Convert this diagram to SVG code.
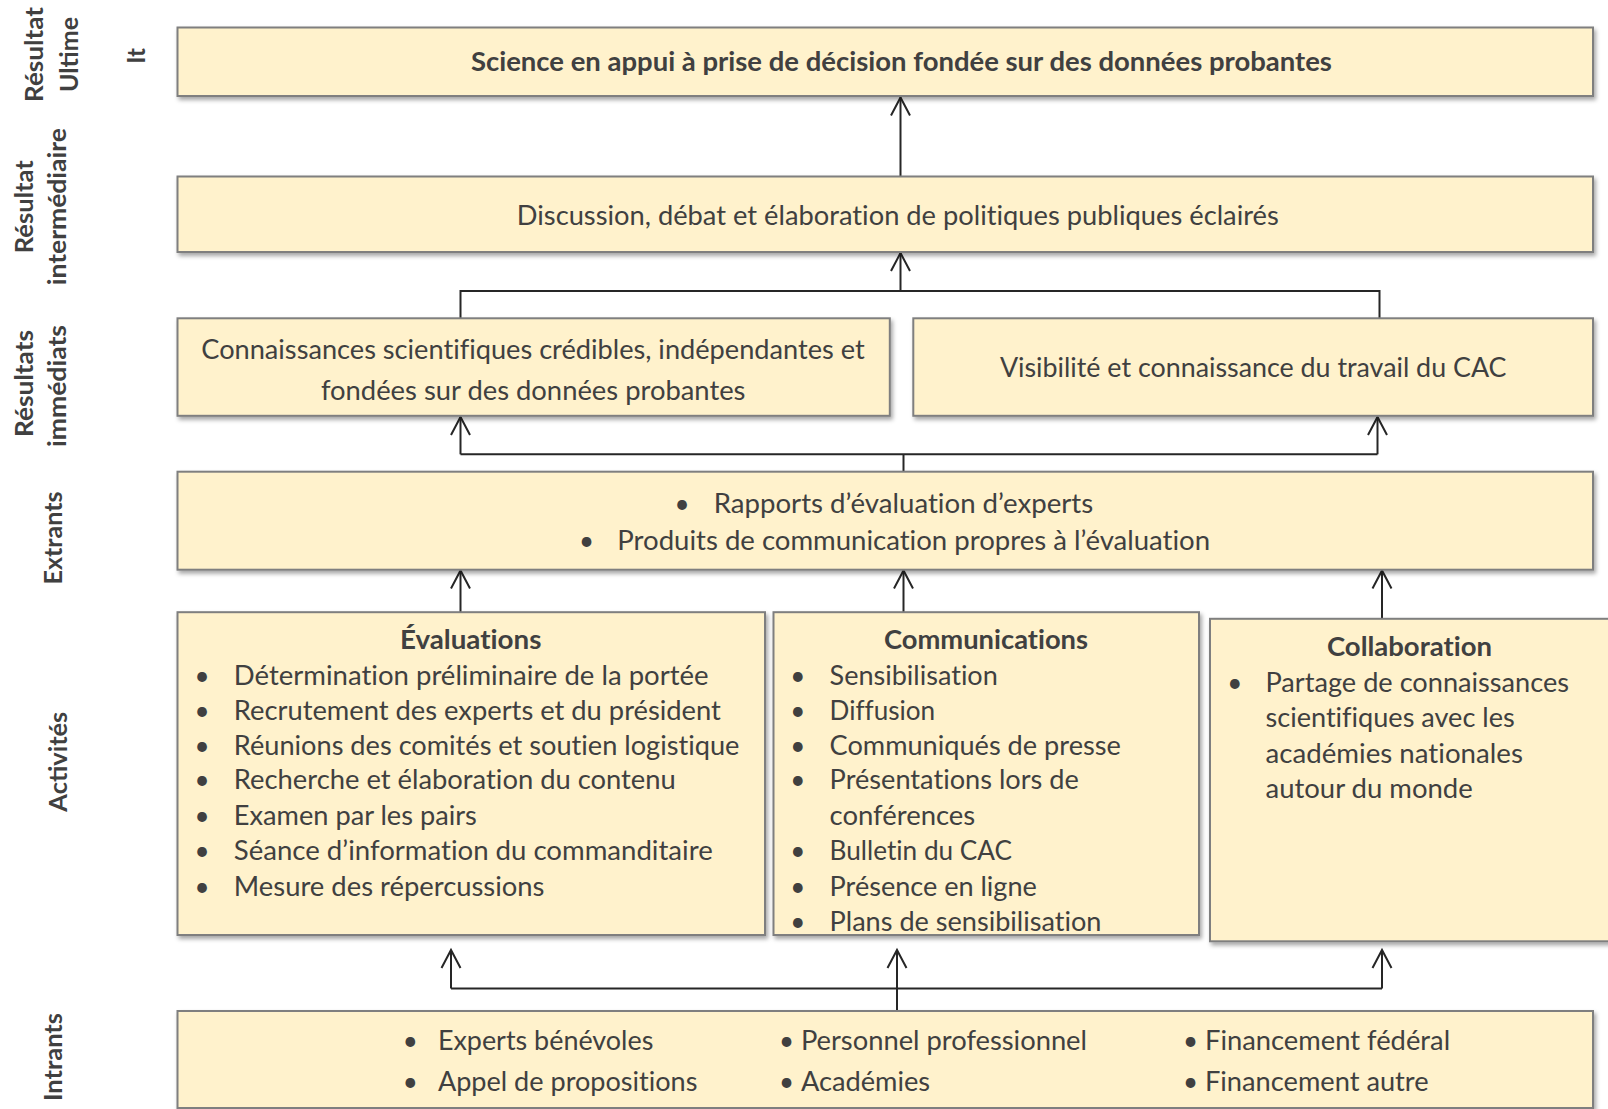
<svg xmlns="http://www.w3.org/2000/svg" width="1608" height="1109" viewBox="0 0 1608 1109">
<style>
  .box { fill: #FFF2CC; stroke: #7F7F7F; stroke-width: 2; filter: url(#sh); }
  .t { font-family: Lato, "Liberation Sans", sans-serif; font-size: 26px; fill: #404040; font-variant-ligatures: none; }
  .b { font-weight: bold; }
  .m { text-anchor: middle; }
  .side { font-family: Lato, "Liberation Sans", sans-serif; font-size: 24px; font-weight: bold; fill: #404040; text-anchor: middle; }
  .c { fill: none; stroke: #262626; stroke-width: 2; }
  .a { marker-end: url(#arr); }
</style>
<defs>
  <filter id="sh" x="-5%" y="-10%" width="110%" height="130%">
    <feDropShadow dx="2" dy="3" stdDeviation="2" flood-color="#000" flood-opacity="0.35"/>
  </filter>
  <marker id="arr" markerUnits="userSpaceOnUse" markerWidth="24" markerHeight="26" viewBox="-21 -13 24 26" refX="0" refY="0" orient="auto" overflow="visible">
    <path d="M-18,-9.5 L0,0 L-18,9.5" fill="none" stroke="#262626" stroke-width="2"/>
  </marker>
</defs>
<rect width="1608" height="1109" fill="#FFFFFF"/>

<g id="labels">
  <text class="side" transform="translate(43,54.5) rotate(-90)" textLength="95" lengthAdjust="spacingAndGlyphs">Résultat</text>
  <text class="side" transform="translate(78,54.5) rotate(-90)" textLength="75" lengthAdjust="spacingAndGlyphs">Ultime</text>
  <text class="side" transform="translate(145,55.8) rotate(-90)">It</text>
  <text class="side" transform="translate(33,206.7) rotate(-90)" textLength="93" lengthAdjust="spacingAndGlyphs">Résultat</text>
  <text class="side" transform="translate(65.5,206.7) rotate(-90)" textLength="157" lengthAdjust="spacingAndGlyphs">intermédiaire</text>
  <text class="side" transform="translate(33,383.5) rotate(-90)" textLength="107" lengthAdjust="spacingAndGlyphs">Résultats</text>
  <text class="side" transform="translate(65.5,386) rotate(-90)" textLength="122" lengthAdjust="spacingAndGlyphs">immédiats</text>
  <text class="side" transform="translate(62,538) rotate(-90)" textLength="93" lengthAdjust="spacingAndGlyphs">Extrants</text>
  <text class="side" transform="translate(67,761.7) rotate(-90)" textLength="100" lengthAdjust="spacingAndGlyphs">Activités</text>
  <text class="side" transform="translate(62,1057) rotate(-90)" textLength="88" lengthAdjust="spacingAndGlyphs">Intrants</text>
</g>

<g id="connectors">
  <path class="c a" d="M900.5,176.5 V97.5"/>
  <path class="c" d="M460.5,318 V291 H1379.5 V318"/>
  <path class="c a" d="M900.5,291 V253"/>
  <path class="c" d="M903.5,471.5 V454.3"/>
  <path class="c" d="M460.5,454.3 H1377.5"/>
  <path class="c a" d="M460.5,454.3 V417"/>
  <path class="c a" d="M1377.5,454.3 V417"/>
  <path class="c a" d="M460.5,612 V570.5"/>
  <path class="c a" d="M903.5,612.5 V570.5"/>
  <path class="c a" d="M1382,619 V570.5"/>
  <path class="c" d="M451,988.5 H1382"/>
  <path class="c a" d="M897,1011 V950"/>
  <path class="c a" d="M451,988.5 V950"/>
  <path class="c a" d="M1382,988.5 V950"/>
</g>

<g id="impact">
  <rect class="box" x="177.5" y="27.5" width="1415.5" height="68.5"/>
  <text class="t b m" x="901.4" y="71.3" textLength="861" lengthAdjust="spacingAndGlyphs">Science en appui à prise de décision fondée sur des données probantes</text>
</g>

<g id="intermediaire">
  <rect class="box" x="177.5" y="176.5" width="1415.5" height="75.5"/>
  <text class="t m" x="897.8" y="225" textLength="762" lengthAdjust="spacingAndGlyphs">Discussion, débat et élaboration de politiques publiques éclairés</text>
</g>

<g id="immediat-connaissances">
  <rect class="box" x="177.5" y="318.3" width="712.3" height="97.5"/>
  <text class="t m" x="533" y="358.5" textLength="663.5" lengthAdjust="spacingAndGlyphs">Connaissances scientifiques crédibles, indépendantes et</text>
  <text class="t m" x="533.2" y="399.5" textLength="424.5" lengthAdjust="spacingAndGlyphs">fondées sur des données probantes</text>
</g>

<g id="immediat-visibilite">
  <rect class="box" x="913.3" y="318.3" width="679.7" height="97.5"/>
  <text class="t m" x="1253.2" y="377" textLength="506.6" lengthAdjust="spacingAndGlyphs">Visibilité et connaissance du travail du CAC</text>
</g>

<g id="extrants">
  <rect class="box" x="177.5" y="471.7" width="1415.5" height="98"/>
  <text class="t m" x="682" y="512.5">•</text>
  <text class="t" x="713.7" y="512.5" textLength="379.5" lengthAdjust="spacingAndGlyphs">Rapports d’évaluation d’experts</text>
  <text class="t m" x="586.6" y="549.5">•</text>
  <text class="t" x="617.3" y="549.5" textLength="592.8" lengthAdjust="spacingAndGlyphs">Produits de communication propres à l’évaluation</text>
</g>

<g id="evaluations">
  <rect class="box" x="177.5" y="612.2" width="587.5" height="322.8"/>
  <text class="t b m" x="470.7" y="649" textLength="141.5" lengthAdjust="spacingAndGlyphs">Évaluations</text>
  <g class="t m">
    <text x="202" y="685">•</text><text x="202" y="719.8">•</text><text x="202" y="754.6">•</text><text x="202" y="789.4">•</text><text x="202" y="824.8">•</text><text x="202" y="860.1">•</text><text x="202" y="895.5">•</text>
  </g>
  <text class="t" x="233.8" y="685" textLength="474.8" lengthAdjust="spacingAndGlyphs">Détermination préliminaire de la portée</text>
  <text class="t" x="233.8" y="719.8" textLength="487.1" lengthAdjust="spacingAndGlyphs">Recrutement des experts et du président</text>
  <text class="t" x="233.8" y="754.6" textLength="505.6" lengthAdjust="spacingAndGlyphs">Réunions des comités et soutien logistique</text>
  <text class="t" x="233.8" y="789.4" textLength="442" lengthAdjust="spacingAndGlyphs">Recherche et élaboration du contenu</text>
  <text class="t" x="233.8" y="824.8" textLength="243" lengthAdjust="spacingAndGlyphs">Examen par les pairs</text>
  <text class="t" x="233.8" y="860.1" textLength="478.9" lengthAdjust="spacingAndGlyphs">Séance d’information du commanditaire</text>
  <text class="t" x="233.8" y="895.5" textLength="310.7" lengthAdjust="spacingAndGlyphs">Mesure des répercussions</text>
</g>

<g id="communications">
  <rect class="box" x="773.5" y="612.2" width="425.5" height="322.8"/>
  <text class="t b m" x="986" y="649" textLength="204.1" lengthAdjust="spacingAndGlyphs">Communications</text>
  <g class="t m">
    <text x="797.8" y="685">•</text><text x="797.8" y="719.8">•</text><text x="797.8" y="754.6">•</text><text x="797.8" y="789.4">•</text><text x="797.8" y="860.1">•</text><text x="797.8" y="895.5">•</text><text x="797.8" y="930.5">•</text>
  </g>
  <text class="t" x="829.6" y="685" textLength="168.2" lengthAdjust="spacingAndGlyphs">Sensibilisation</text>
  <text class="t" x="829.6" y="719.8" textLength="105.6" lengthAdjust="spacingAndGlyphs">Diffusion</text>
  <text class="t" x="829.6" y="754.6" textLength="291.2" lengthAdjust="spacingAndGlyphs">Communiqués de presse</text>
  <text class="t" x="829.6" y="789.4" textLength="249.2" lengthAdjust="spacingAndGlyphs">Présentations lors de</text>
  <text class="t" x="829.6" y="824.8" textLength="145.6" lengthAdjust="spacingAndGlyphs">conférences</text>
  <text class="t" x="829.6" y="860.1" textLength="182.5" lengthAdjust="spacingAndGlyphs">Bulletin du CAC</text>
  <text class="t" x="829.6" y="895.5" textLength="207.2" lengthAdjust="spacingAndGlyphs">Présence en ligne</text>
  <text class="t" x="829.6" y="930.5" textLength="271.8" lengthAdjust="spacingAndGlyphs">Plans de sensibilisation</text>
</g>

<g id="collaboration">
  <rect class="box" x="1210" y="618.8" width="410" height="322.5"/>
  <text class="t b m" x="1409.5" y="656" textLength="165.1" lengthAdjust="spacingAndGlyphs">Collaboration</text>
  <text class="t m" x="1234.7" y="692">•</text>
  <text class="t" x="1265.5" y="692" textLength="303.5" lengthAdjust="spacingAndGlyphs">Partage de connaissances</text>
  <text class="t" x="1265.5" y="727" textLength="249.2" lengthAdjust="spacingAndGlyphs">scientifiques avec les</text>
  <text class="t" x="1265.5" y="762.5" textLength="257.4" lengthAdjust="spacingAndGlyphs">académies nationales</text>
  <text class="t" x="1265.5" y="797.6" textLength="207.2" lengthAdjust="spacingAndGlyphs">autour du monde</text>
</g>

<g id="intrants">
  <rect class="box" x="177.5" y="1011" width="1415.5" height="97"/>
  <text class="t m" x="410.2" y="1050">•</text>
  <text class="t" x="437.9" y="1050" textLength="215.4" lengthAdjust="spacingAndGlyphs">Experts bénévoles</text>
  <text class="t m" x="410.2" y="1091">•</text>
  <text class="t" x="437.9" y="1091" textLength="259.5" lengthAdjust="spacingAndGlyphs">Appel de propositions</text>
  <text class="t m" x="786.6" y="1050">•</text>
  <text class="t" x="800.9" y="1050" textLength="286.1" lengthAdjust="spacingAndGlyphs">Personnel professionnel</text>
  <text class="t m" x="786.6" y="1091">•</text>
  <text class="t" x="800.9" y="1091" textLength="129.2" lengthAdjust="spacingAndGlyphs">Académies</text>
  <text class="t m" x="1190.6" y="1050">•</text>
  <text class="t" x="1205" y="1050" textLength="245.1" lengthAdjust="spacingAndGlyphs">Financement fédéral</text>
  <text class="t m" x="1190.6" y="1091">•</text>
  <text class="t" x="1205" y="1091" textLength="223.6" lengthAdjust="spacingAndGlyphs">Financement autre</text>
</g>
</svg>
